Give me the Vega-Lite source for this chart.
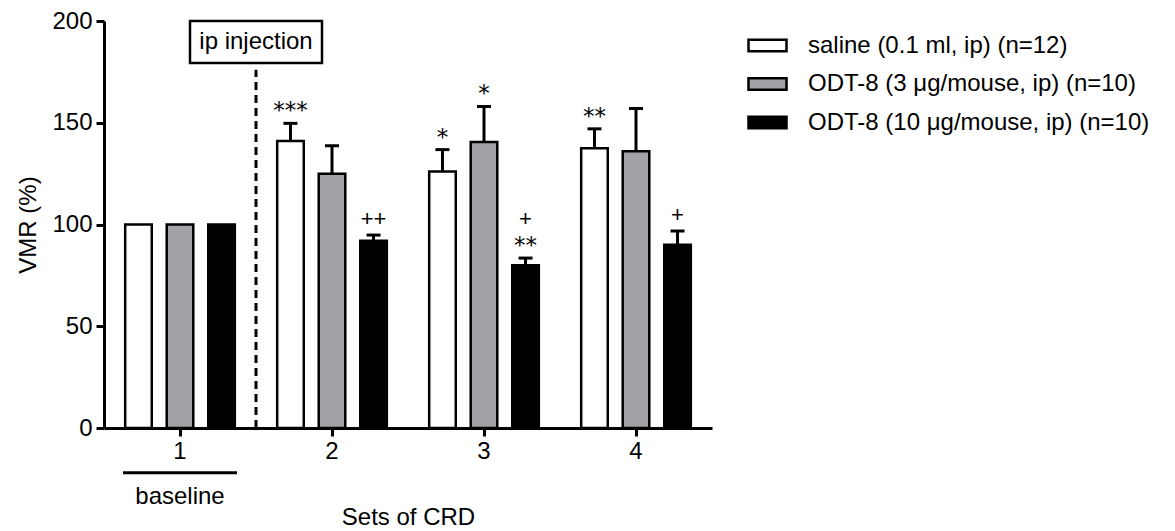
{
  "$schema": "https://vega.github.io/schema/vega-lite/v6.json",
  "width": 608,
  "height": 407,
  "autosize": "none",
  "padding": {"left": 104, "top": 21, "right": 463, "bottom": 103},
  "background": "white",
  "config": {
    "view": {"stroke": null},
    "font": "Liberation Sans",
    "axis": {
      "domainColor": "black", "domainWidth": 3, "tickColor": "black", "tickWidth": 3, "tickSize": 8,
      "labelFontSize": 24, "labelColor": "black", "labelFont": "Liberation Sans",
      "titleFontSize": 24, "titleColor": "black", "titleFontWeight": "normal", "titleFont": "Liberation Sans",
      "grid": false
    },
    "legend": {
      "labelFontSize": 24, "labelColor": "black", "labelFont": "Liberation Sans", "labelLimit": 0,
      "symbolStrokeColor": "black", "symbolStrokeWidth": 2.5
    }
  },
  "data": {
    "values": [
      {"set": "1", "group": "saline (0.1 ml, ip) (n=12)", "mean": 100},
      {"set": "1", "group": "ODT-8 (3 μg/mouse, ip) (n=10)", "mean": 100},
      {"set": "1", "group": "ODT-8 (10 μg/mouse, ip) (n=10)", "mean": 100},
      {"set": "2", "group": "saline (0.1 ml, ip) (n=12)", "mean": 141, "upper": 149.7, "star": "***"},
      {"set": "2", "group": "ODT-8 (3 μg/mouse, ip) (n=10)", "mean": 125, "upper": 138.7},
      {"set": "2", "group": "ODT-8 (10 μg/mouse, ip) (n=10)", "mean": 92, "upper": 94.8, "plus": "++"},
      {"set": "3", "group": "saline (0.1 ml, ip) (n=12)", "mean": 126, "upper": 136.8, "star": "*"},
      {"set": "3", "group": "ODT-8 (3 μg/mouse, ip) (n=10)", "mean": 140.5, "upper": 158, "star": "*"},
      {"set": "3", "group": "ODT-8 (10 μg/mouse, ip) (n=10)", "mean": 80, "upper": 83.5, "star": "**", "plus": "+"},
      {"set": "4", "group": "saline (0.1 ml, ip) (n=12)", "mean": 137.5, "upper": 147, "star": "**"},
      {"set": "4", "group": "ODT-8 (3 μg/mouse, ip) (n=10)", "mean": 136, "upper": 157},
      {"set": "4", "group": "ODT-8 (10 μg/mouse, ip) (n=10)", "mean": 90, "upper": 96.8, "plus": "+"}
    ]
  },
  "layer": [
    {
      "mark": {"type": "bar", "stroke": "black", "strokeWidth": 2.5},
      "encoding": {
        "x": {"field": "set", "type": "nominal", "scale": {"paddingInner": 0, "paddingOuter": 0},
              "axis": {"labelAngle": 0, "labelPadding": 3, "titlePadding": 42}, "title": "Sets of CRD"},
        "xOffset": {"field": "group", "type": "nominal",
                    "sort": ["saline (0.1 ml, ip) (n=12)", "ODT-8 (3 μg/mouse, ip) (n=10)", "ODT-8 (10 μg/mouse, ip) (n=10)"],
                    "scale": {"paddingInner": 0.36, "paddingOuter": 0.51}},
        "y": {"field": "mean", "type": "quantitative", "scale": {"domain": [0, 200], "nice": false},
              "axis": {"values": [0, 50, 100, 150, 200], "labelPadding": 4, "titlePadding": 11}, "title": "VMR (%)"},
        "fill": {"field": "group", "type": "nominal",
                 "sort": ["saline (0.1 ml, ip) (n=12)", "ODT-8 (3 μg/mouse, ip) (n=10)", "ODT-8 (10 μg/mouse, ip) (n=10)"],
                 "scale": {"range": ["#ffffff", "#a3a2a7", "#000000"]},
                 "legend": {"title": null, "orient": "none", "legendX": 643, "legendY": 4,
                            "symbolType": "M-1,-0.3H1V0.3H-1Z", "symbolSize": 1444, "labelOffset": 20, "rowPadding": 5.5}}
      }
    },
    {
      "transform": [{"filter": "isValid(datum.upper)"}],
      "mark": {"type": "rule", "color": "black", "strokeWidth": 3},
      "encoding": {
        "x": {"field": "set", "type": "nominal"},
        "xOffset": {"field": "group", "type": "nominal",
                    "sort": ["saline (0.1 ml, ip) (n=12)", "ODT-8 (3 μg/mouse, ip) (n=10)", "ODT-8 (10 μg/mouse, ip) (n=10)"]},
        "y": {"field": "mean", "type": "quantitative"},
        "y2": {"field": "upper"}
      }
    },
    {
      "transform": [{"filter": "isValid(datum.upper)"}],
      "mark": {"type": "tick", "color": "black", "size": 14, "thickness": 3, "opacity": 1},
      "encoding": {
        "x": {"field": "set", "type": "nominal"},
        "xOffset": {"field": "group", "type": "nominal",
                    "sort": ["saline (0.1 ml, ip) (n=12)", "ODT-8 (3 μg/mouse, ip) (n=10)", "ODT-8 (10 μg/mouse, ip) (n=10)"]},
        "y": {"field": "upper", "type": "quantitative"}
      }
    },
    {
      "transform": [{"filter": "isValid(datum.star)"}],
      "mark": {"type": "text", "font": "DejaVu Sans", "fontSize": 23, "baseline": "alphabetic", "dy": -5, "color": "black"},
      "encoding": {
        "x": {"field": "set", "type": "nominal"},
        "xOffset": {"field": "group", "type": "nominal",
                    "sort": ["saline (0.1 ml, ip) (n=12)", "ODT-8 (3 μg/mouse, ip) (n=10)", "ODT-8 (10 μg/mouse, ip) (n=10)"]},
        "y": {"field": "upper", "type": "quantitative"},
        "text": {"field": "star"}
      }
    },
    {
      "transform": [{"filter": "isValid(datum.plus) && !isValid(datum.star)"}],
      "mark": {"type": "text", "fontSize": 22, "baseline": "alphabetic", "dy": -9, "color": "black"},
      "encoding": {
        "x": {"field": "set", "type": "nominal"},
        "xOffset": {"field": "group", "type": "nominal",
                    "sort": ["saline (0.1 ml, ip) (n=12)", "ODT-8 (3 μg/mouse, ip) (n=10)", "ODT-8 (10 μg/mouse, ip) (n=10)"]},
        "y": {"field": "upper", "type": "quantitative"},
        "text": {"field": "plus"}
      }
    },
    {
      "transform": [{"filter": "isValid(datum.plus) && isValid(datum.star)"}],
      "mark": {"type": "text", "fontSize": 22, "baseline": "alphabetic", "dy": -32, "color": "black"},
      "encoding": {
        "x": {"field": "set", "type": "nominal"},
        "xOffset": {"field": "group", "type": "nominal",
                    "sort": ["saline (0.1 ml, ip) (n=12)", "ODT-8 (3 μg/mouse, ip) (n=10)", "ODT-8 (10 μg/mouse, ip) (n=10)"]},
        "y": {"field": "upper", "type": "quantitative"},
        "text": {"field": "plus"}
      }
    },
    {
      "data": {"values": [{}]},
      "mark": {"type": "rule", "color": "black", "strokeWidth": 3, "strokeDash": [8, 5]},
      "encoding": {
        "x": {"datum": "1", "type": "nominal", "bandPosition": 1},
        "y": {"datum": 0, "type": "quantitative"},
        "y2": {"datum": 176}
      }
    },
    {
      "data": {"values": [{}]},
      "mark": {"type": "point", "shape": "M-1,-0.318H1V0.318H-1Z", "size": 17424, "filled": true, "fill": "white", "stroke": "black", "strokeWidth": 2.5, "opacity": 1},
      "encoding": {
        "x": {"datum": "1", "type": "nominal", "bandPosition": 1},
        "y": {"datum": 189.7, "type": "quantitative"}
      }
    },
    {
      "data": {"values": [{"label": "ip injection"}]},
      "mark": {"type": "text", "fontSize": 24, "baseline": "middle", "align": "center", "color": "black"},
      "encoding": {
        "x": {"datum": "1", "type": "nominal", "bandPosition": 1},
        "y": {"datum": 189.7, "type": "quantitative"},
        "text": {"field": "label"}
      }
    },
    {
      "data": {"values": [{}]},
      "mark": {"type": "point", "shape": "M-1,0H1", "size": 12996, "filled": false, "stroke": "black", "strokeWidth": 3, "opacity": 1},
      "encoding": {
        "x": {"datum": "1", "type": "nominal"},
        "y": {"datum": -22, "type": "quantitative"}
      }
    },
    {
      "data": {"values": [{"label": "baseline"}]},
      "mark": {"type": "text", "fontSize": 24, "baseline": "middle", "align": "center", "color": "black"},
      "encoding": {
        "x": {"datum": "1", "type": "nominal"},
        "y": {"datum": -34, "type": "quantitative"},
        "text": {"field": "label"}
      }
    }
  ]
}
